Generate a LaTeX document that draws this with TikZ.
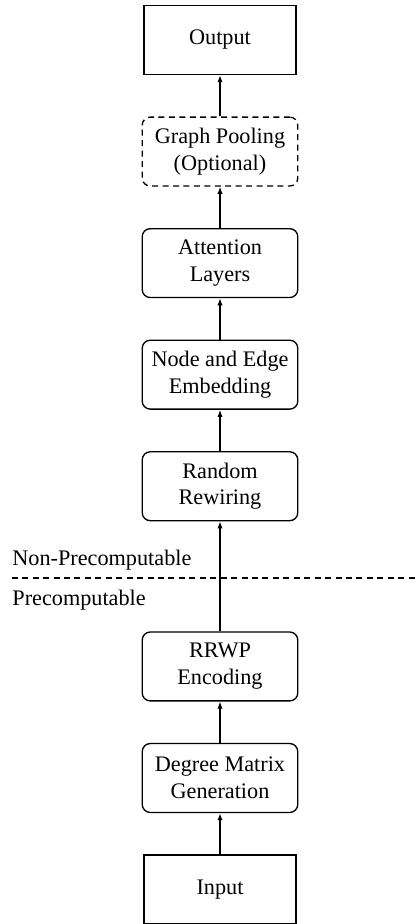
\documentclass[tikz,border=0pt]{standalone}
\usepackage{fontspec}
\setmainfont{Liberation Serif}
\usetikzlibrary{positioning,
                arrows.meta}                % arrow tips

\tikzset{
  stage/.style={draw, rounded corners=3.6pt, minimum width=70pt, minimum height=31pt,
                align=center, font=\fontsize{10}{12}\selectfont, line width=0.6pt},
  optstage/.style={stage, dash pattern=on 2.7pt off 2pt},
  io/.style={draw, minimum width=68.5pt, minimum height=31pt,
             align=center, font=\fontsize{10}{12}\selectfont, line width=0.6pt},
}

\begin{document}
\begin{tikzpicture}[node distance=18.6pt, >={Latex[length=3.2pt,width=2.4pt]}, line width=0.6pt]
        \useasboundingbox (0,0) rectangle (188.1pt,-415.8pt);

        % precomputable part
        \node[io] (input) at (99pt,-400.3pt) {Input};
        \node[stage, above=of input] (degree) {Degree Matrix\\Generation};
        \node[stage, above=of degree] (rrwp) {RRWP\\Encoding};

        % non-precomputable part
        \node[stage, above=49.5pt of rrwp] (rewire) {Random\\Rewiring};
        \node[stage, above=of rewire] (embed) {Node and Edge\\Embedding};
        \node[stage, above=of embed] (attn) {Attention\\Layers};
        \node[optstage, above=of attn] (pool) {Graph Pooling\\(Optional)};
        \node[io, above=of pool] (output) {Output};

        \draw[->] (input) -- (degree);
        \draw[->] (degree) -- (rrwp);
        \draw[->] (rrwp) -- (rewire);
        \draw[->] (rewire) -- (embed);
        \draw[->] (embed) -- (attn);
        \draw[->] (attn) -- (pool);
        \draw[->] (pool) -- (output);

        \draw[dash pattern=on 2.7pt off 2pt] (5.3pt,-260.1pt) -- (188.1pt,-260.1pt);
        \node[anchor=base west, inner sep=0pt, font=\fontsize{10}{12}\selectfont] (nonpre) at (5.3pt,-254.3pt) {Non-Precomputable};
        \node[anchor=base west, inner sep=0pt, font=\fontsize{10}{12}\selectfont] (pre) at (5.3pt,-272.3pt) {Precomputable};
\end{tikzpicture}
\end{document}
